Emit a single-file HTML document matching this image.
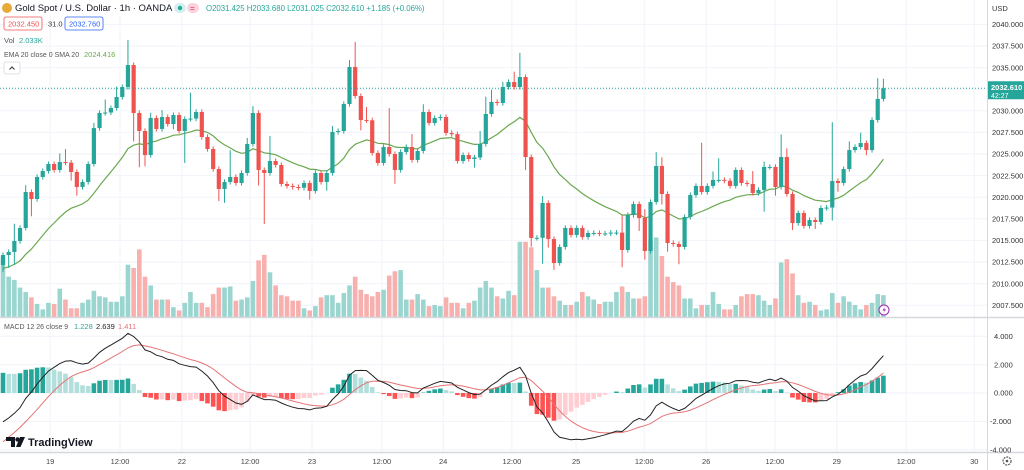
<!DOCTYPE html>
<html><head><meta charset="utf-8">
<style>
html,body{margin:0;padding:0;background:#fff;}
body{width:1024px;height:470px;overflow:hidden;position:relative;font-family:"Liberation Sans",sans-serif;}
svg{position:absolute;left:0;top:0;}
</style></head>
<body>
<svg id="chart" width="1024" height="470" viewBox="0 0 1024 470"></svg>
<script>
// ---------- DATA ----------
const open0 = 2012.15;
const closes = [
2013.31,2013.66,2014.93,2016.44,2020.60,2019.79,2022.34,2023.03,2023.84,2023.15,
2024.07,2024.00,2022.92,2021.18,2021.76,2023.84,2028.00,2029.75,2029.80,2030.32,
2031.60,2032.75,2035.30,2029.75,2027.66,2024.88,2029.17,2027.90,2029.28,2028.47,
2029.51,2027.66,2029.05,2029.10,2029.86,2026.97,2025.58,2023.26,2020.95,2021.76,
2022.34,2021.64,2022.80,2026.16,2029.75,2023.15,2022.80,2024.19,2023.73,2021.53,
2021.30,2021.18,2021.10,2021.64,2020.72,2022.80,2021.76,2022.80,2027.55,2027.66,
2030.79,2035.07,2031.71,2028.93,2028.90,2025.12,2023.96,2025.81,2025.00,2023.15,
2025.23,2025.81,2024.31,2025.35,2029.86,2028.59,2029.17,2029.28,2027.43,2027.30,
2024.19,2024.88,2024.42,2024.60,2026.16,2029.63,2031.02,2030.90,2032.75,2033.33,
2032.75,2033.91,2024.65,2015.28,2015.30,2019.33,2015.16,2012.38,2014.24,2016.44,
2015.63,2016.44,2015.39,2015.86,2015.86,2015.80,2015.80,2015.90,2015.90,2013.89,
2017.94,2019.21,2017.59,2013.77,2019.44,2023.61,2020.37,2014.70,2014.58,2014.24,
2017.71,2020.25,2021.30,2020.60,2021.30,2021.99,2022.00,2021.90,2021.30,2023.15,
2021.64,2021.53,2020.49,2020.83,2023.50,2023.50,2021.18,2024.65,2020.37,2017.01,
2018.17,2016.67,2017.36,2017.13,2018.75,2018.80,2021.88,2021.64,2023.26,2025.46,
2025.81,2026.27,2025.46,2028.93,2031.37,2032.61];
const wickUp = [
0.3,0.3,2,0.3,0.8,0.3,0.3,0.3,0.3,0.3,
1.0,1.5,0.3,0.3,0.3,0.3,0.6,0.3,1.5,0.3,
1.2,0.3,2.9,0.3,0.3,0.3,0.6,0.3,0.8,0.3,
0.3,0.3,0.3,3.0,0.3,0.3,0.3,0.3,0.3,0.3,
3.1,0.3,0.3,0.7,0.8,0.3,0.3,2.9,0.3,0.3,
0.3,0.3,0.3,0.3,0.3,0.3,0.3,0.3,0.7,0.3,
0.3,0.8,2.9,0.3,1.5,0.3,0.3,0.3,4.5,0.3,
0.3,0.3,1.5,0.3,0.9,0.3,0.3,0.3,0.3,0.3,
0.3,0.3,0.3,0.3,1.5,2.0,1.4,0.3,0.6,0.3,
1.2,2.8,0.3,0.3,0.3,0.8,0.3,0.3,0.3,0.3,
0.3,0.3,0.3,0.3,0.3,0.3,0.3,0.3,0.3,2.0,
0.3,0.3,0.3,1.0,0.3,1.6,1.0,0.3,0.3,0.3,
0.3,0.3,0.3,5.0,0.3,1.0,2.5,0.3,0.3,0.3,
0.3,0.3,1.5,0.3,0.6,0.3,0.3,2.6,1.0,0.3,
0.3,0.3,0.3,0.3,0.3,0.3,6.8,0.3,0.3,1.0,
0.3,1.2,0.3,0.3,2.4,1.1];
const wickDn = [
0.8,1.5,1.5,0.3,0.3,2.0,0.3,0.3,0.3,0.3,
0.3,0.3,1.0,1.0,0.3,0.3,0.3,0.3,0.3,0.3,
0.3,0.3,0.3,3.3,4.2,1.3,0.3,0.3,0.3,0.3,
0.6,0.3,3.7,0.3,0.3,0.3,0.3,0.3,1.4,1.6,
0.3,0.3,0.3,0.3,0.3,1.8,5.9,0.3,0.3,0.3,
0.3,0.3,0.3,0.3,1.0,0.3,0.3,1.0,0.3,0.3,
0.3,0.3,0.3,1.2,0.3,0.3,0.3,0.3,0.3,1.6,
0.3,0.3,0.3,0.3,0.3,0.3,0.3,0.3,0.3,0.3,
0.3,0.3,0.3,1.0,0.3,0.3,0.3,0.3,0.3,0.3,
0.3,0.3,1.5,1.0,0.3,3.0,1.0,0.8,0.3,0.3,
0.3,0.3,0.3,0.3,0.3,0.3,0.3,0.3,0.3,2.0,
0.3,0.3,1.5,1.0,0.3,0.3,1.2,1.0,0.3,2.0,
0.3,0.3,0.3,0.3,0.3,0.3,0.3,0.3,0.3,0.3,
0.3,0.3,0.3,0.3,2.5,0.3,1.0,0.3,0.3,0.8,
0.3,0.3,0.3,0.8,0.3,0.3,1.5,1.0,0.3,0.3,
0.3,0.3,0.6,0.3,0.3,0.3];
const volumes = [
5.4,3.7,3.4,2.7,2.3,1.8,1.2,0.7,1.3,1.2,
2.6,1.6,0.8,0.8,1.3,1.6,2.4,1.9,1.8,1.4,
1.4,1.9,4.8,4.5,6.2,3.7,2.9,1.6,1.6,1.6,
0.9,0.6,1.3,2.3,1.3,1.3,0.9,2.1,2.7,2.7,
2.8,1.5,1.6,1.8,3.3,5.2,5.7,4.1,2.9,2.0,
1.9,1.5,1.5,0.8,0.6,1.0,1.8,2.0,2.0,1.3,
2.2,2.9,3.7,2.5,2.1,1.9,2.3,2.5,3.8,4.2,
4.3,1.6,1.6,2.1,1.6,1.0,1.1,1.0,1.8,1.3,
1.3,0.8,1.3,1.5,2.7,3.3,2.7,1.9,1.7,2.4,
2.0,6.9,6.9,6.4,4.3,2.7,2.7,1.9,1.5,1.1,
1.1,1.4,2.3,1.9,1.6,1.2,1.4,1.4,2.3,2.8,
2.3,1.7,1.7,1.9,7.1,7.3,5.6,3.7,3.2,2.9,
1.7,1.7,0.8,1.1,1.1,2.3,1.2,0.7,0.7,1.1,
1.9,2.1,2.1,2.0,1.5,1.1,1.7,5.0,5.3,4.0,
2.0,1.3,1.4,1.1,0.6,0.7,2.2,1.3,1.9,1.4,
1.1,0.7,1.1,1.3,2.1,2.0];
// indicator seeds (values before first bar)
const emaSeed20 = 2011.6, ema12Seed = 2012.0, ema26Seed = 2014.3, signalSeed = -3.8;
const priceTicks = [2040,2037.5,2035,2032.5,2030,2027.5,2025,2022.5,2020,2017.5,2015,2012.5,2010,2007.5];
const macdTicks = [4,2,0,-2,-4];
const timeLabels = ["19","12:00","22","12:00","23","12:00","24","12:00","25","12:00","26","12:00","29","12:00","30"];
const timeIdx = [8.3,20.6,31.5,43.5,54.4,66.7,77.5,89.6,100.9,112.9,123.8,135.9,146.8,159,171];
const lastPrice = 2032.61;

// ---------- SCALES ----------
const X0 = 3, DX = 5.68, AXISX = 987;
const yP = p => 46 + (2037.5 - p) * 8.64;
const VBASE = 317, VPX = 10.9;
const yV = v => VBASE - v * VPX;
const yM = v => 393 - v * 14.2;
const xI = i => X0 + i * DX;

const NS = "http://www.w3.org/2000/svg";
const svg = document.getElementById('chart');
function mk(tag, attrs, parent) {
  const e = document.createElementNS(NS, tag);
  for (const k in attrs) e.setAttribute(k, attrs[k]);
  (parent || svg).appendChild(e);
  return e;
}
const GREEN = "#26a69a", RED = "#ef5350";

const defs = mk('defs', {});
const cp1 = mk('clipPath', {id: 'cpPrice'}, defs); mk('rect', {x: 0, y: 0, width: AXISX, height: 317}, cp1);
const cp2 = mk('clipPath', {id: 'cpMacd'}, defs); mk('rect', {x: 0, y: 319, width: AXISX, height: 133}, cp2);

// ---------- GRID ----------
const grid = mk('g', {stroke: '#f0f3fa', 'stroke-width': 1});


priceTicks.forEach(p => mk('line', {x1: 0, x2: AXISX, y1: yP(p), y2: yP(p)}, grid));
macdTicks.forEach(v => mk('line', {x1: 0, x2: AXISX, y1: yM(v), y2: yM(v)}, grid));
timeIdx.forEach(t => mk('line', {x1: xI(t), x2: xI(t), y1: 0, y2: 452}, grid));

// ---------- VOLUME ----------
const gVol = mk('g', {'clip-path': 'url(#cpPrice)'});


const opens = closes.map((c, i) => i === 0 ? open0 : closes[i - 1]);
volumes.forEach((v, i) => {
  const up = closes[i] >= opens[i];
  const r = mk('rect', {x: xI(i) - 2.3, y: yV(v), width: 4.6, height: VBASE - yV(v), fill: up ? '#9bd5cf' : '#f8b0ae'}, gVol);
  
  
});

// ---------- EMA 20 ----------
let e20 = emaSeed20; const ema20 = [];
closes.forEach(c => { e20 = e20 + (2 / 21) * (c - e20); ema20.push(e20); });
const emaPath = mk('path', {d: ema20.map((v, i) => (i ? 'L' : 'M') + xI(i).toFixed(1) + ' ' + yP(v).toFixed(1)).join(''), fill: 'none', stroke: '#6aa84f', 'stroke-width': 1.2, 'clip-path': 'url(#cpPrice)'});



// ---------- CANDLES ----------
const gC = mk('g', {'clip-path': 'url(#cpPrice)'});


closes.forEach((c, i) => {
  const o = opens[i], up = c >= o, col = up ? GREEN : RED;
  const hi = Math.max(o, c) + wickUp[i], lo = Math.min(o, c) - wickDn[i];
  const g = mk('g', {}, gC);
  
  
  mk('line', {x1: xI(i), x2: xI(i), y1: yP(hi), y2: yP(lo), stroke: col, 'stroke-width': 1}, g);
  const top = yP(Math.max(o, c)), bot = yP(Math.min(o, c));
  mk('rect', {x: xI(i) - 2.1, y: top, width: 4.2, height: Math.max(1, bot - top), fill: col}, g);
});

const lp = mk('line', {x1: 0, x2: AXISX, y1: yP(lastPrice), y2: yP(lastPrice), stroke: GREEN, 'stroke-width': 1, 'stroke-dasharray': '1 2'});



// ---------- MACD ----------
let e12 = ema12Seed, e26 = ema26Seed, sig = signalSeed;
const macd = [], signal = [], hist = [];
closes.forEach(c => {
  e12 += (2 / 13) * (c - e12); e26 += (2 / 27) * (c - e26);
  const m = e12 - e26; sig += (2 / 10) * (m - sig);
  macd.push(m); signal.push(sig); hist.push(m - sig);
});
const gH = mk('g', {'clip-path': 'url(#cpMacd)'});


hist.forEach((h, i) => {
  const prev = i ? hist[i - 1] : h;
  let col;
  if (h >= 0) col = h >= prev ? '#26a69a' : '#b2dfdb';
  else col = h < prev ? '#ff5252' : '#ffcdd2';
  const y0 = yM(0), y1 = yM(h);
  const r = mk('rect', {x: xI(i) - 2.3, y: Math.min(y0, y1), width: 4.6, height: Math.abs(y1 - y0), fill: col}, gH);
  
  
});
const sigPath = mk('path', {d: signal.map((v, i) => (i ? 'L' : 'M') + xI(i).toFixed(1) + ' ' + yM(v).toFixed(1)).join(''), fill: 'none', stroke: '#e57373', 'stroke-width': 1, 'clip-path': 'url(#cpMacd)'});


const mPath = mk('path', {d: macd.map((v, i) => (i ? 'L' : 'M') + xI(i).toFixed(1) + ' ' + yM(v).toFixed(1)).join(''), fill: 'none', stroke: '#222', 'stroke-width': 1, 'clip-path': 'url(#cpMacd)'});



// ---------- SEPARATORS & AXES ----------
mk('line', {x1: 0, x2: 1024, y1: 317.5, y2: 317.5, stroke: '#d6d8de', 'stroke-width': 1.5});
mk('line', {x1: 0, x2: 1024, y1: 452.5, y2: 452.5, stroke: '#d6d8de', 'stroke-width': 1.5});
mk('line', {x1: AXISX + .5, x2: AXISX + .5, y1: 0, y2: 470, stroke: '#d6d8de', 'stroke-width': 1});

const gPA = mk('g', {'font-size': '7.5', fill: '#333', 'font-family': 'Liberation Sans, sans-serif'});


const usd = mk('text', {x: 992, y: 11}, gPA); usd.textContent = 'USD';
priceTicks.forEach(p => { const t = mk('text', {x: 992, y: yP(p) + 2.7}, gPA); t.textContent = p.toFixed(3); });
const gMA = mk('g', {'font-size': '7.5', fill: '#333', 'font-family': 'Liberation Sans, sans-serif'});


macdTicks.forEach(v => { const t = mk('text', {x: v < 0 ? 990 : 994, y: yM(v) + 2.7}, gMA); t.textContent = v.toFixed(3); });

const lpl = mk('g', {});


mk('rect', {x: 988, y: yP(lastPrice) - 7, width: 36, height: 18, fill: GREEN}, lpl);
const lt1 = mk('text', {x: 991, y: yP(lastPrice) + 2, 'font-size': '7.5', fill: '#fff', 'font-weight': 'bold', 'font-family': 'Liberation Sans, sans-serif'}, lpl); lt1.textContent = lastPrice.toFixed(3);
const lt2 = mk('text', {x: 991, y: yP(lastPrice) + 10, 'font-size': '7', fill: '#fff', 'font-family': 'Liberation Sans, sans-serif'}, lpl); lt2.textContent = '42:27';

const gTA = mk('g', {'font-size': '7.5', fill: '#444', 'text-anchor': 'middle', 'font-family': 'Liberation Sans, sans-serif'});


timeLabels.forEach((l, k) => { const t = mk('text', {x: xI(timeIdx[k]), y: 464}, gTA); t.textContent = l; });

// ---------- HEADER / LEGENDS ----------
function txt(x, y, s, size, fill, name, extra) {
  const t = mk('text', Object.assign({x: x, y: y, 'font-size': size, fill: fill, 'font-family': 'Liberation Sans, sans-serif'}, extra || {}));
  t.textContent = s;
  
  
  return t;
}
mk('rect', {x: 0, y: 0, width: 420, height: 16, fill: '#fff', opacity: 0.9});
const icon = mk('circle', {cx: 7, cy: 8, r: 5, fill: '#e6a93a'});


txt(15, 11, 'Gold Spot / U.S. Dollar · 1h · OANDA', '9.5', '#131722', 'symbol-title');
const p1 = mk('rect', {x: 174, y: 3, width: 12, height: 10, rx: 5, fill: '#d5f0ec'});


mk('circle', {cx: 180, cy: 8, r: 2.2, fill: GREEN});
const p2 = mk('rect', {x: 187, y: 3, width: 12, height: 10, rx: 5, fill: '#fbd3dc'});


txt(190, 11, '=', '8', '#e91e63', 'data-status-glyph');
txt(206, 11, 'O2031.425 H2033.680 L2031.025 C2032.610 +1.185 (+0.06%)', '7.8', '#26a69a', 'ohlc-values');

const b1 = mk('rect', {x: 4, y: 17, width: 38, height: 13, rx: 2, fill: '#fff', stroke: '#ef5350', 'stroke-width': 0.8});


txt(8, 26.5, '2032.450', '7.5', '#ef5350', 'sell-price');
txt(48, 26.5, '31.0', '7.5', '#333', 'spread-value');
const b2 = mk('rect', {x: 65, y: 17, width: 38, height: 13, rx: 2, fill: '#fff', stroke: '#2962ff', 'stroke-width': 0.8});


txt(69, 26.5, '2032.760', '7.5', '#2962ff', 'buy-price');

txt(4, 43, 'Vol', '7.5', '#555', 'vol-legend-label');
txt(19, 43, '2.033K', '7.5', '#26a69a', 'vol-legend-value');
txt(4, 57, 'EMA 20 close 0 SMA 20', '7', '#555', 'ema-legend-label');
txt(84, 57, '2024.416', '7.5', '#6aa84f', 'ema-legend-value');
const cb = mk('rect', {x: 4, y: 62, width: 16, height: 12, rx: 2, fill: '#fff', stroke: '#d6d8de', 'stroke-width': 0.8});


mk('path', {d: 'M9.5 69.5 L12 67 L14.5 69.5', fill: 'none', stroke: '#333', 'stroke-width': 1});

txt(4, 329, 'MACD 12 26 close 9', '7', '#555', 'macd-legend-label');
txt(74, 329, '1.228', '7.5', '#26a69a', 'macd-hist-value');
txt(96, 329, '2.639', '7.5', '#222', 'macd-value');
txt(118, 329, '1.411', '7.5', '#e57373', 'macd-signal-value');

const li = mk('circle', {cx: 884, cy: 310, r: 5, fill: '#fff', stroke: '#9c27b0', 'stroke-width': 1});


mk('path', {d: 'M885 306.5 L882.5 310.5 L884.5 310.5 L883 313.5 L886 309.3 L884 309.3 Z', fill: '#9c27b0'});

const logo = mk('g', {});


mk('path', {d: 'M6 437 H15 V447 H11 V441 H6 Z', fill: '#131722'}, logo);
mk('circle', {cx: 17.5, cy: 439.5, r: 2.2, fill: '#131722'}, logo);
mk('path', {d: 'M20 437 H25 L20.5 447 H16 Z', fill: '#131722'}, logo);
const lt = mk('text', {x: 28, y: 446, 'font-size': '11', 'font-weight': 'bold', fill: '#131722', 'font-family': 'Liberation Sans, sans-serif'}, logo);
lt.textContent = 'TradingView';

const gear = mk('circle', {cx: 1007, cy: 461, r: 4, fill: 'none', stroke: '#555', 'stroke-width': 1.2, 'stroke-dasharray': '2 1'});


mk('circle', {cx: 1007, cy: 461, r: 1.3, fill: '#555'});
</script>
</body></html>
